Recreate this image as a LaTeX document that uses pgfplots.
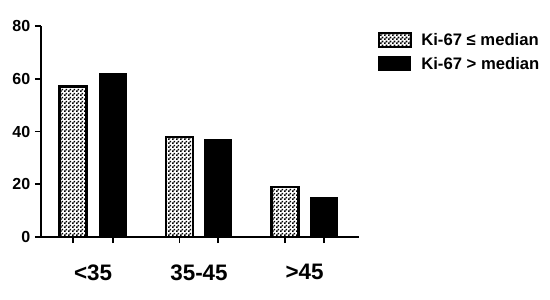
\documentclass[border=0pt]{standalone}
\usepackage{fontspec}
\setmainfont{Liberation Sans}
\usepackage{pgfplots}
\pgfplotsset{compat=1.18}
\usetikzlibrary{patterns}

% checkerboard fill of the first series
\pgfdeclarepatternformonly{checker}{\pgfpointorigin}{\pgfpoint{3pt}{3pt}}{\pgfpoint{3pt}{3pt}}{%
  \pgfpathrectangle{\pgfpointorigin}{\pgfpoint{1.5pt}{1.5pt}}%
  \pgfpathrectangle{\pgfpoint{1.5pt}{1.5pt}}{\pgfpoint{1.5pt}{1.5pt}}%
  \pgfusepath{fill}}

\begin{document}
\begin{tikzpicture}[x=0.75pt,y=0.75pt]
\begin{axis}[
 scale only axis,width=238.5pt,height=158.25pt,
 xmin=41,xmax=359,ymin=0,ymax=80,
 axis x line*=bottom,axis y line*=left,
 axis line style={line width=1.5pt,-},
 ytick={0,20,40,60,80},
 xtick={73,113,179.5,218,285,324},xticklabels={},
 tick style={black,line width=1.2pt},
 major tick length=4.5pt,
 tick align=outside,
 extra x ticks={93,199,304.5},
 extra x tick labels={<35,35-45,>45},
 extra x tick style={major tick length=0pt,
   tick label style={font=\bfseries\fontsize{16.8}{18}\selectfont,yshift=-17pt}},
 tick label style={font=\bfseries\fontsize{12}{14}\selectfont},
 /pgf/number format/assume math mode=true,
 ybar,bar width=27,bar shift=0pt,
 clip=false,
 legend style={at={(1.045,0.99)},anchor=north west,draw=none,fill=none,
   font=\bfseries\fontsize{12.5}{14}\selectfont,row sep=3pt},
 legend cell align=left,
 legend image code/.code={\draw[#1] (0pt,-4.5pt) rectangle (24pt,6pt);\path (29pt,0pt);},
]
\coordinate (bl) at (rel axis cs:0,0);
\addplot[draw=black,line width=1.8pt,pattern=checker,pattern color=black]
 coordinates {(73,57) (179.5,38) (285,19)};
\addlegendentry{Ki-67 ≤ median}
\addplot[draw=black,line width=1pt,fill=black]
 coordinates {(113,62) (218,37) (324,15)};
\addlegendentry{Ki-67 > median}
\end{axis}
\pgfresetboundingbox
\useasboundingbox ([shift={(-41,-63)}]bl) rectangle ++(550,300);
\end{tikzpicture}
\end{document}
